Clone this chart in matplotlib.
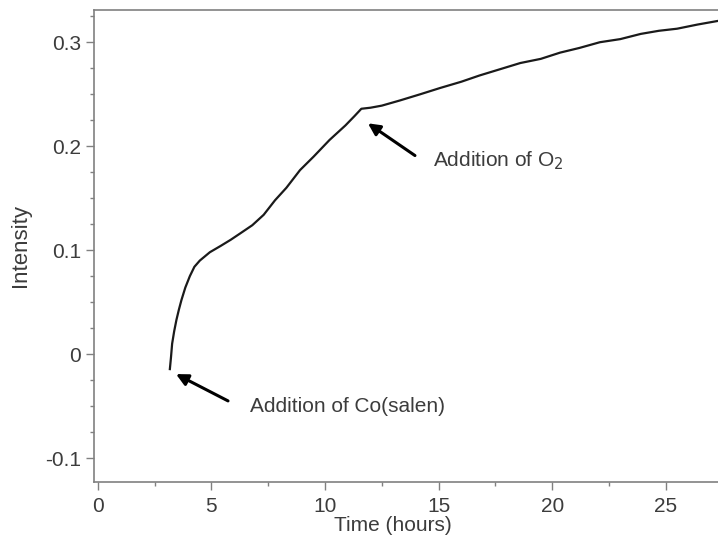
import numpy as np
import matplotlib.pyplot as plt
from matplotlib.ticker import MultipleLocator

plt.rcParams['font.family'] = ['Liberation Sans', 'DejaVu Sans']

# kinetic trace
time_h = [3.17, 3.22, 3.27, 3.36, 3.46, 3.57, 3.68, 3.85, 4.05, 4.25, 4.49,
          4.93, 5.4, 5.85, 6.26, 6.8, 7.3, 7.8, 8.3, 8.9, 9.5, 10.2, 10.9,
          11.3, 11.6, 12.0, 12.5, 13.3, 14.2, 15.07, 16.0, 16.8, 17.7, 18.6,
          19.5, 20.35, 21.2, 22.1, 23.0, 23.9, 24.7, 25.5, 26.4, 27.3]
intensity = [-0.0144, -0.003, 0.01, 0.022, 0.033, 0.043, 0.052, 0.064, 0.075,
             0.084, 0.09, 0.098, 0.104, 0.11, 0.116, 0.124, 0.134, 0.148,
             0.16, 0.177, 0.19, 0.206, 0.22, 0.229, 0.236, 0.237, 0.239,
             0.244, 0.25, 0.256, 0.262, 0.268, 0.274, 0.28, 0.284, 0.29,
             0.2945, 0.3, 0.303, 0.308, 0.311, 0.313, 0.317, 0.3205]

grey = '#808080'
txt = '#3c3c3c'
fs = 15

fig = plt.figure(figsize=(7.18, 5.4), dpi=100)
ax = fig.add_axes([0.1309, 0.1074, 0.8691, 0.8741])

ax.plot(time_h, intensity, color='#1a1a1a', lw=1.6)

ax.set_xlim(-0.17, 27.3)
ax.set_ylim(-0.123, 0.331)
ax.xaxis.set_major_locator(MultipleLocator(5))
ax.xaxis.set_minor_locator(MultipleLocator(2.5))
ax.yaxis.set_major_locator(MultipleLocator(0.1))
ax.yaxis.set_minor_locator(MultipleLocator(0.025))
ax.yaxis.set_major_formatter(plt.FuncFormatter(lambda v, p: f'{v:g}' if abs(v) > 1e-9 else '0'))

ax.spines['right'].set_visible(False)
for s in ['left', 'bottom', 'top']:
    ax.spines[s].set_color(grey)
    ax.spines[s].set_linewidth(1.2)
ax.tick_params(which='both', direction='out', color=grey, labelcolor=txt,
               labelsize=fs, top=False, right=False)
ax.tick_params(which='major', length=6, width=1)
ax.tick_params(which='minor', length=3, width=1)
ax.tick_params(axis='x', which='major', pad=5)

ax.set_xlabel('Time (hours)', fontsize=fs, color=txt)
ax.xaxis.set_label_coords(0.479, -0.073, transform=ax.transAxes)
ax.set_ylabel('Intensity', fontsize=fs + 1, color=txt, labelpad=10)

arrow = dict(arrowstyle='-|>,head_length=0.7,head_width=0.35', color='black', lw=2.2,
             shrinkA=0, shrinkB=0)
ax.annotate('', xy=(3.44, -0.0192), xytext=(5.73, -0.045), arrowprops=arrow)
ax.text(6.7, -0.05, 'Addition of Co(salen)', fontsize=fs, color=txt, va='center')
ax.annotate('', xy=(11.89, 0.222), xytext=(13.96, 0.191), arrowprops=arrow)
ax.text(14.76, 0.1865, 'Addition of O$_2$', fontsize=fs, color=txt, va='center')

fig.savefig('out.png', dpi=100)
